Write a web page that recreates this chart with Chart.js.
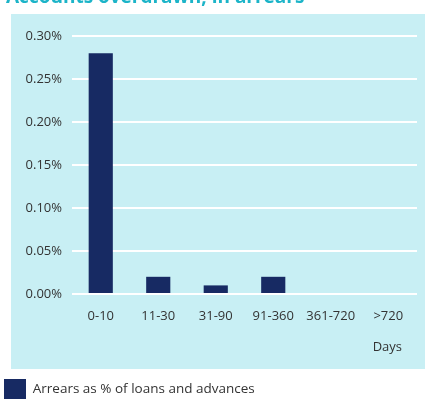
<!DOCTYPE html>
<html>
<head>
<meta charset="utf-8">
<script src="https://cdn.jsdelivr.net/npm/chart.js@4/dist/chart.umd.min.js"></script>
<style>
  html, body { margin: 0; padding: 0; background: #fff; }
  #wrap { position: relative; width: 425px; height: 401px; }
</style>
</head>
<body>
<div id="wrap"><canvas id="arrearsChart" width="425" height="401"></canvas></div>
<script>
const categories = ["0-10", "11-30", "31-90", "91-360", "361-720", ">720"];
const arrearsPct = [0.28, 0.02, 0.01, 0.02, 0, 0];
const yTicks = [0, 0.05, 0.10, 0.15, 0.20, 0.25, 0.30];

const panelColor = "#c8eff4";
const barColor = "#172a63";
const textColor = "#333333";
const titleColor = "#1cb4c8";
const fontFamily = "'Open Sans', sans-serif";

// light blue panel behind the plot, the heading above it and the "Days" unit label
const panelPlugin = {
  id: "panel",
  beforeDraw(chart) {
    const ctx = chart.ctx;
    ctx.save();
    ctx.fillStyle = panelColor;
    ctx.fillRect(11, 14, 414, 355);
    ctx.fillStyle = titleColor;
    ctx.font = "bold 19px " + fontFamily;
    ctx.textBaseline = "alphabetic";
    ctx.fillText("Accounts overdrawn, in arrears", 6, 3);
    ctx.restore();
  },
  afterDraw(chart) {
    const ctx = chart.ctx;
    ctx.save();
    ctx.fillStyle = textColor;
    ctx.font = "13px " + fontFamily;
    ctx.textBaseline = "middle";
    ctx.textAlign = "right";
    ctx.fillText("Days", 402, 347);
    ctx.restore();
  },
};

new Chart(document.getElementById("arrearsChart").getContext("2d"), {
  type: "bar",
  data: {
    labels: categories,
    datasets: [
      {
        label: "Arrears as % of loans and advances",
        data: arrearsPct,
        backgroundColor: barColor,
        borderWidth: 0,
        categoryPercentage: 1,
        barPercentage: 0.42,
      },
    ],
  },
  options: {
    responsive: false,
    animation: false,
    layout: { padding: { top: 36, right: 8, left: 0, bottom: -8 } },
    scales: {
      y: {
        min: 0,
        max: 0.3,
        afterBuildTicks(axis) {
          axis.ticks = yTicks.map((v) => ({ value: v }));
        },
        afterFit(axis) {
          axis.width = 72;
        },
        border: { display: false },
        grid: { color: "#ffffff", lineWidth: 2, drawTicks: false },
        ticks: {
          padding: 10,
          color: textColor,
          font: { family: fontFamily, size: 13 },
          callback: (v) => v.toFixed(2) + "%",
        },
      },
      x: {
        afterFit(axis) {
          axis.height = 81;
        },
        border: { display: false },
        grid: { display: false },
        ticks: {
          padding: 6,
          color: textColor,
          font: { family: fontFamily, size: 13 },
        },
      },
    },
    plugins: {
      tooltip: { enabled: false },
      legend: {
        position: "bottom",
        align: "start",
        labels: {
          boxWidth: 22,
          boxHeight: 20,
          padding: 4,
          color: textColor,
          font: { family: fontFamily, size: 13.5 },
        },
      },
    },
  },
  plugins: [panelPlugin],
});
</script>
</body>
</html>
